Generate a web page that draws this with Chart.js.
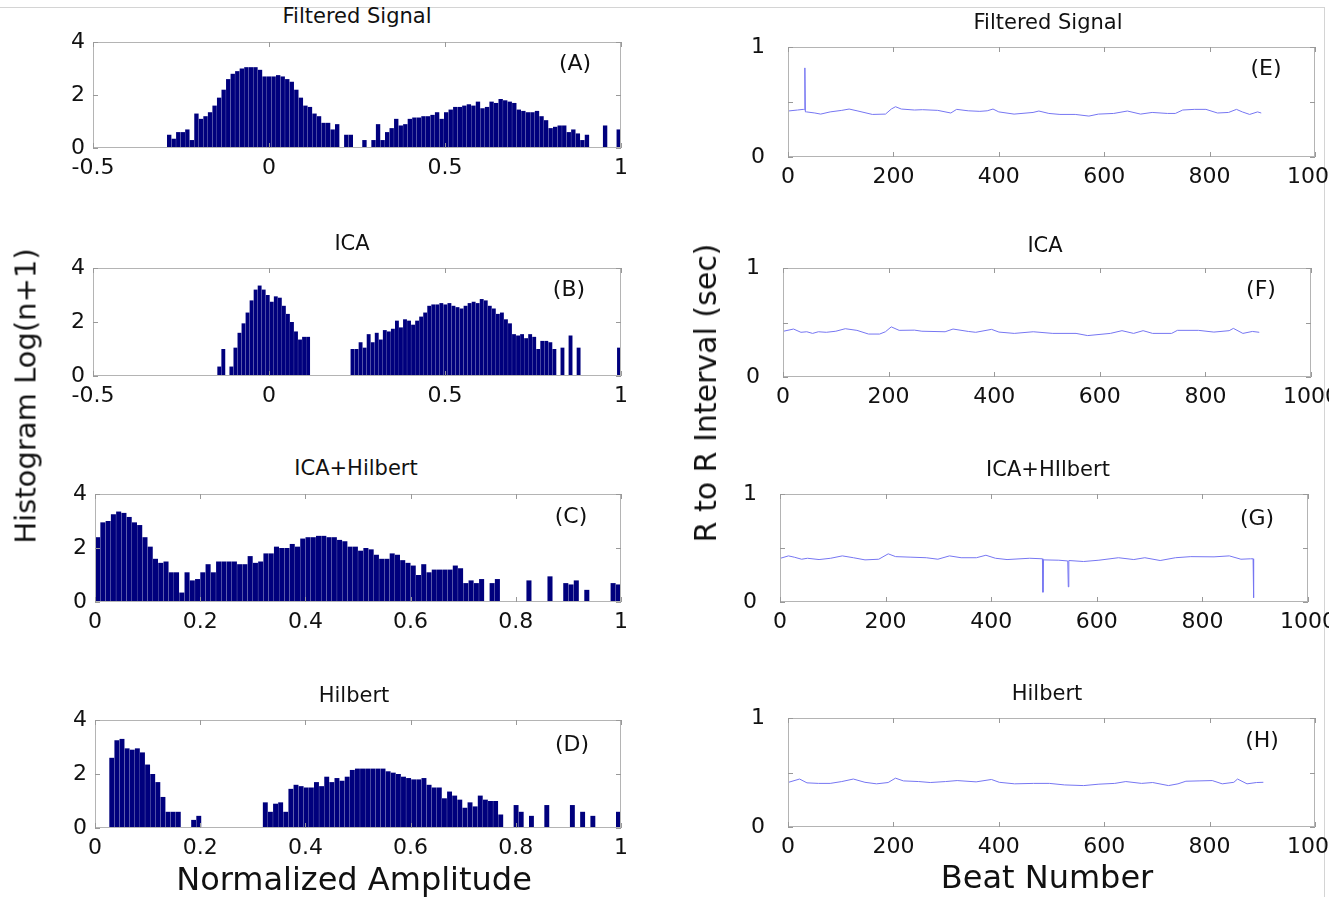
<!DOCTYPE html>
<html><head><meta charset="utf-8">
<script src="https://cdn.jsdelivr.net/npm/chart.js@4.4.1/dist/chart.umd.min.js"></script>
<style>
body{margin:0;background:#fff;width:1342px;height:897px;overflow:hidden;position:relative;font-family:"DejaVu Sans",sans-serif;}
.t{position:absolute;white-space:nowrap;transform:translate(-50%,-50%);color:#111;line-height:1;}
.rot{transform:translate(-50%,-50%) rotate(-90deg);}
canvas{position:absolute;}
#frame{position:absolute;left:0;top:7px;width:1324px;height:900px;border-top:1px solid #d4d4d4;border-right:1px solid #d4d4d4;}
</style></head><body>
<div id="frame"></div>
<script>
// ---------------- DATA ----------------
// Histogram ranges (normalized amplitude) and bin counts, log(n+1)
const rangeA = [-0.29, 1.0];
const countsA = [0.5,0.35,0.6,0.6,0.7,0.3,1.3,1.1,1.2,1.35,
  1.6,1.9,2.2,2.6,2.8,2.9,3.0,3.05,3.05,3.05,
  2.95,2.7,2.7,2.7,2.75,2.7,2.6,2.5,2.2,1.9,
  1.6,1.55,1.3,1.2,0.95,0.95,0.7,0.9,0,0.5,
  0.5,0,0,0.3,0,0.3,0.9,0.3,0.6,0.75,
  1.1,0.85,0.9,1.1,1.15,1.15,1.2,1.2,1.25,1.35,
  1.1,1.35,1.45,1.55,1.55,1.6,1.65,1.6,1.75,1.5,
  1.55,1.75,1.7,1.85,1.8,1.75,1.7,1.45,1.4,1.35,
  1.35,1.4,1.2,1.05,0.75,0.8,0.85,0.85,0.6,0.7,
  0.55,0.3,0.5,0,0,0,0.85,0,0,0.7];

const rangeB = [-0.147, 1.0];
const countsB = [0.35,1.0,0,0.35,1.05,1.6,1.95,2.35,2.8,3.2,
  3.35,3.2,3.0,2.75,2.95,2.9,2.6,2.3,2.0,1.65,
  1.35,1.45,1.45,0,0,0,0,0,0,0,
  0,0,0,1.0,1.0,1.25,1.05,1.55,1.25,1.6,
  1.35,1.7,1.65,1.75,2.05,1.8,2.1,2.05,1.9,2.05,
  2.2,2.35,2.6,2.65,2.65,2.7,2.65,2.7,2.6,2.55,
  2.5,2.6,2.7,2.75,2.7,2.85,2.8,2.6,2.5,2.3,
  2.35,2.1,1.95,1.55,1.5,1.55,1.4,1.55,1.45,1.0,
  1.3,1.3,1.25,1.0,0,1.05,0,1.5,0,1.05,
  0,0,0,0,0,0,0,0,0,1.05];

const rangeC = [0, 1.0];
const countsC = [2.4,2.95,3.0,3.25,3.35,3.3,3.15,2.95,2.85,2.4,
  2.05,1.6,1.45,1.5,1.1,1.1,0.35,1.1,0.8,0.85,
  1.1,1.4,1.1,1.5,1.5,1.5,1.5,1.4,1.4,1.7,
  1.45,1.5,1.8,1.8,2.05,2.0,2.0,2.15,2.05,2.35,
  2.4,2.4,2.45,2.45,2.4,2.4,2.3,2.25,2.05,2.05,
  1.9,2.0,1.95,1.75,1.6,1.6,1.8,1.75,1.55,1.45,
  1.35,1.0,1.4,1.1,1.2,1.2,1.2,1.2,1.35,1.25,
  0.7,0.8,0.7,0.85,0,0.7,0.85,0,0,0,
  0,0,0.8,0,0,0,0.95,0,0,0.7,
  0.65,0.8,0,0.45,0,0,0,0,0.7,0.65];

const rangeD = [0.027, 1.0];
const countsD = [2.6,3.25,3.3,2.95,2.9,2.95,2.8,2.35,2.0,1.7,
  1.15,0.6,0.6,0.6,0,0,0.3,0.45,0,0,
  0,0,0,0,0,0,0,0,0,0,
  0.95,0.6,0.9,0.95,0.6,1.45,1.6,1.55,1.5,1.5,
  1.7,1.55,1.9,1.7,1.85,1.75,1.9,2.15,2.2,2.2,
  2.2,2.2,2.2,2.2,2.1,2.05,2.0,1.9,1.85,1.8,
  1.8,1.85,1.6,1.5,1.5,1.1,1.35,1.2,1.05,0.75,
  0.95,0.8,1.2,1.05,1.0,1.0,0.5,0,0,0.85,
  0.6,0,0.45,0,0,0.85,0,0,0,0,
  0.85,0,0.6,0,0.45,0,0,0,0,0.6];

// R to R interval (sec) per beat number
const beatsE = [0,18,29,31,32,33,35,51,62,80,102,116,131,160,185,196,204,215,240,255,284,309,320,342,364,378,389,400,429,465,476,495,516,545,571,589,618,644,669,691,720,735,749,771,793,815,836,851,862,876,891,898];
const rrE = [0.418,0.427,0.433,0.43,0.81,0.41,0.41,0.40,0.39,0.41,0.424,0.436,0.42,0.387,0.39,0.436,0.457,0.436,0.427,0.43,0.424,0.40,0.433,0.42,0.415,0.42,0.436,0.41,0.39,0.405,0.418,0.396,0.387,0.387,0.372,0.39,0.396,0.418,0.39,0.405,0.396,0.396,0.427,0.433,0.433,0.40,0.405,0.433,0.41,0.387,0.41,0.40];

const beatsF = [1,20,34,45,56,67,82,100,118,140,162,183,194,205,220,249,263,307,322,351,365,395,409,438,474,511,555,577,620,642,664,682,700,736,747,787,816,845,853,871,889,902];
const rrF = [0.42,0.44,0.41,0.415,0.40,0.415,0.41,0.42,0.443,0.428,0.394,0.394,0.415,0.46,0.428,0.43,0.42,0.415,0.44,0.418,0.41,0.437,0.412,0.40,0.415,0.40,0.40,0.38,0.40,0.425,0.40,0.425,0.40,0.40,0.428,0.428,0.412,0.425,0.446,0.40,0.418,0.41];

const beatsG = [1,16,27,41,52,74,96,118,139,161,187,205,219,248,277,299,321,343,372,390,408,430,473,497,498,499,528,545,546,547,575,604,641,670,691,720,749,778,822,851,873,891,896,897];
const rrG = [0.405,0.427,0.415,0.396,0.405,0.393,0.405,0.427,0.41,0.39,0.396,0.446,0.42,0.415,0.41,0.396,0.427,0.41,0.41,0.433,0.405,0.393,0.405,0.40,0.09,0.39,0.387,0.38,0.14,0.384,0.375,0.387,0.41,0.393,0.41,0.384,0.41,0.42,0.418,0.427,0.396,0.40,0.40,0.04];

const beatsH = [1,22,36,58,80,102,124,146,168,190,204,219,248,270,299,321,357,386,401,430,466,496,525,561,590,620,641,671,692,722,740,755,780,805,824,846,853,871,889,902];
const rrH = [0.41,0.44,0.405,0.40,0.40,0.417,0.44,0.41,0.396,0.408,0.448,0.423,0.417,0.408,0.417,0.426,0.414,0.436,0.41,0.396,0.40,0.40,0.386,0.38,0.393,0.40,0.417,0.40,0.408,0.38,0.396,0.42,0.423,0.426,0.396,0.41,0.44,0.396,0.408,0.41];

// Axis tick definitions
const histYTicks = [0, 4, 2];         // min, max, step
const ampTicksAB = [-0.5, 1, 0.5];
const ampTicksCD = [0, 1, 0.2];
const beatTicks = [0, 1000, 200];
const rrTicks = [0, 1, 0.5];

const titlesLeft = ['Filtered Signal','ICA','ICA+Hilbert','Hilbert'];
const titlesRight = ['Filtered Signal','ICA','ICA+HIlbert','Hilbert'];
const panelTags = ['(A)','(B)','(C)','(D)','(E)','(F)','(G)','(H)'];

// ---------------- STYLE / LAYOUT ----------------
Chart.defaults.font.family = '"DejaVu Sans", sans-serif';
Chart.defaults.font.size = 22;
Chart.defaults.color = '#111';
const BAR = '#00007d';
const LINE = '#7676f2';
const BOXC = '#b4b4b4';

const fmt = v => String(Math.round(v * 1000) / 1000);

const boxPlugin = {
  id: 'boxTicks',
  afterDatasetsDraw(chart) {
    const {ctx, chartArea: a, scales} = chart;
    ctx.save();
    ctx.strokeStyle = BOXC;
    ctx.lineWidth = 1;
    ctx.strokeRect(Math.round(a.left) + 0.5, Math.round(a.top) + 0.5, Math.round(a.right - a.left) - 1, Math.round(a.bottom - a.top) - 1);
    ctx.strokeStyle = '#999';
    const tl = 5;
    ctx.beginPath();
    scales.x.ticks.forEach(t => {
      const px = Math.round(scales.x.getPixelForValue(t.value)) + 0.5;
      ctx.moveTo(px, a.bottom); ctx.lineTo(px, a.bottom - tl);
      ctx.moveTo(px, a.top); ctx.lineTo(px, a.top + tl);
    });
    scales.y.ticks.forEach(t => {
      const py = Math.round(scales.y.getPixelForValue(t.value)) + 0.5;
      ctx.moveTo(a.left, py); ctx.lineTo(a.left + tl, py);
      ctx.moveTo(a.right, py); ctx.lineTo(a.right - tl, py);
    });
    ctx.stroke();
    ctx.restore();
  }
};

function makeChart(box, type, datasets, xt, yt, yCb, padL, yPad) {
  const padT = 14, padB = 36;
  const padR = box.clip ? (box.clip - box.r) : 24;
  const w = box.r - box.l + padL + padR, h = box.b - box.t + padT + padB;
  const c = document.createElement('canvas');
  c.width = w; c.height = h;
  c.style.left = (box.l - padL) + 'px'; c.style.top = (box.t - padT) + 'px';
  c.style.width = w + 'px'; c.style.height = h + 'px';
  document.body.appendChild(c);
  new Chart(c, {
    type,
    data: {datasets},
    plugins: [boxPlugin],
    options: {
      responsive: false, animation: false, devicePixelRatio: 1,
      layout: {padding: {top: padT, right: padR, left: 0, bottom: 0}, autoPadding: false},
      plugins: {legend: {display: false}, tooltip: {enabled: false}},
      scales: {
        x: {type: 'linear', min: xt[0], max: xt[1], offset: false,
            grid: {display: false, drawTicks: false, tickLength: 0, offset: false}, border: {display: false},
            ticks: {stepSize: xt[2], padding: 7, maxRotation: 0, autoSkip: false, callback: fmt},
            afterFit: s => { s.height = padB; s.paddingLeft = 0; s.paddingRight = 0; }},
        y: {type: 'linear', min: yt[0], max: yt[1],
            grid: {display: false, drawTicks: false, tickLength: 0}, border: {display: false},
            ticks: {stepSize: yt[2], padding: yPad, callback: yCb},
            afterFit: s => { s.width = padL; s.paddingTop = 0; s.paddingBottom = 0; }}
      }
    }
  });
}

function histDataset(range, counts) {
  const bw = (range[1] - range[0]) / counts.length;
  return [{
    data: counts.map((v, i) => ({x: range[0] + bw * (i + 0.5), y: v})),
    backgroundColor: BAR, borderWidth: 0,
    barPercentage: 0.96, categoryPercentage: 1, grouped: false
  }];
}
function lineDataset(beats, rr) {
  return [{
    data: beats.map((b, i) => ({x: b, y: rr[i]})),
    borderColor: LINE, borderWidth: 1, pointRadius: 0, tension: 0, fill: false
  }];
}

const leftBoxes = [
  {l: 93, t: 42, r: 621, b: 148},
  {l: 93, t: 268, r: 621, b: 376},
  {l: 95, t: 494, r: 621, b: 602},
  {l: 95, t: 720, r: 621, b: 828}
];
const rightBoxes = [
  {l: 788, t: 47, r: 1315, b: 157, clip: 1329},
  {l: 783, t: 268, r: 1311, b: 377, clip: 1329},
  {l: 780, t: 494, r: 1308, b: 602, clip: 1329},
  {l: 788, t: 718, r: 1315, b: 827, clip: 1329}
];

const hists = [[rangeA, countsA, ampTicksAB], [rangeB, countsB, ampTicksAB], [rangeC, countsC, ampTicksCD], [rangeD, countsD, ampTicksCD]];
hists.forEach((h, i) => makeChart(leftBoxes[i], 'bar', histDataset(h[0], h[1]), h[2], histYTicks, fmt, 64, 8));

const rrSets = [[beatsE, rrE], [beatsF, rrF], [beatsG, rrG], [beatsH, rrH]];
const rrLabel = v => (Math.abs(v - 0.5) < 1e-6 ? '' : fmt(v));
rrSets.forEach((s, i) => makeChart(rightBoxes[i], 'line', lineDataset(s[0], s[1]), beatTicks, rrTicks, rrLabel, 72, 23));

// ---------------- TEXT ----------------
function addText(txt, x, y, size, cls) {
  const d = document.createElement('div');
  d.className = 't' + (cls ? ' ' + cls : '');
  d.textContent = txt;
  d.style.left = x + 'px'; d.style.top = y + 'px'; d.style.fontSize = size + 'px';
  document.body.appendChild(d);
}
const tl = [[357, 16], [352, 243], [356, 468], [354, 695]];
const tr = [[1048, 22], [1045, 245], [1048, 469], [1047, 693]];
titlesLeft.forEach((t, i) => addText(t, tl[i][0], tl[i][1], 21));
titlesRight.forEach((t, i) => addText(t, tr[i][0], tr[i][1], 21));
const tagPos = [[575, 63], [569, 289], [571, 516], [572, 744], [1266, 68], [1261, 289], [1257, 518], [1262, 740]];
panelTags.forEach((t, i) => addText(t, tagPos[i][0], tagPos[i][1], 22));
addText('Histogram Log(n+1)', 26, 396, 29, 'rot');
addText('R to R Interval (sec)', 706, 393, 30, 'rot');
addText('Normalized Amplitude', 354, 879, 32);
addText('Beat Number', 1047, 877, 32);
</script>
</body></html>
